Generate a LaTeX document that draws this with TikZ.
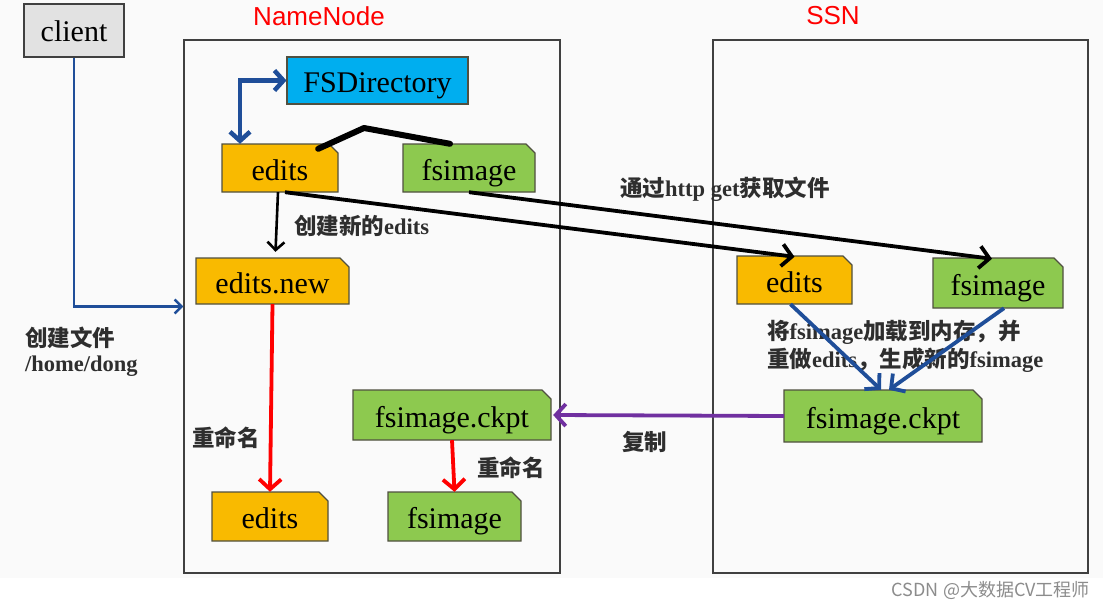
\documentclass[tikz,border=0pt]{standalone}
\usepackage{fontspec}
\setmainfont{Liberation Serif}
\setsansfont{Liberation Sans}
\newfontfamily\cjk{Noto Sans CJK SC}
\usetikzlibrary{arrows.meta,calc}
\definecolor{orangebox}{HTML}{F9BA00}
\definecolor{greenbox}{HTML}{8DC94F}
\definecolor{bluebox}{HTML}{00AEEF}
\definecolor{clientfill}{HTML}{E2E2E2}
\definecolor{boxline}{HTML}{505040}
\definecolor{darkblue}{HTML}{1F4E99}
\definecolor{purplearrow}{HTML}{7030A0}
\definecolor{labcol}{HTML}{2E2E2E}
\definecolor{bgcol}{HTML}{FAFAFA}
\newcommand{\filenode}[7]{%
  \filldraw[fill=#2, draw=boxline, line width=1.1pt] (#3,#4) -- (#5-9,#4) -- (#5,#4+9) -- (#5,#6) -- (#3,#6) -- cycle;
  \node[filetext, minimum width=#5-#3, minimum height=#6-#4] (#1) at ({(#3+#5)/2},{(#4+#6)/2}) {#7};
}
\begin{document}
\begin{tikzpicture}[x=1pt,y=-1pt,
  filetext/.style={font=\rmfamily\fontsize{30}{32}\selectfont, text=black, inner sep=0pt, text height=24pt, text depth=0pt},
  lab/.style={font=\cjk\bfseries\fontsize{22.5}{25}\selectfont, text=labcol, anchor=west, inner sep=0pt},
  frame/.style={draw=black!75, line width=1.1pt, inner sep=0pt},
  title/.style={font=\sffamily\fontsize{26}{28}\selectfont, text=red, inner sep=0pt},
  bigtip/.style={-{Straight Barb[length=10pt,width=22pt]}},
  blk/.style={draw=black, line width=3.8pt, bigtip},
  redarr/.style={draw=red, line width=3.8pt, bigtip},
  bluearr/.style={draw=darkblue, line width=3.8pt, bigtip},
]
\useasboundingbox (0,0) rectangle (1103,608);
\fill[white] (0,0) rectangle (1103,608);
\fill[bgcol] (0,0) rectangle (1103,578);

% frames
\node[frame, minimum width=376, minimum height=533] (nnframe) at (372,306.5) {};
\node[frame, minimum width=375, minimum height=533] (ssnframe) at (900.5,306.5) {};
\node[title] (nntitle) at (319,16) {NameNode};
\node[title] (ssntitle) at (833,16) {SSN};

% client and FSDirectory (plain rectangles)
\node[draw=black!75, fill=clientfill, line width=1.1pt, filetext, text height=22pt, minimum width=100, minimum height=53] (client) at (74,30.5) {client};
\node[draw=boxline, fill=bluebox, line width=1.1pt, filetext, text height=23pt, minimum width=181, minimum height=47] (fsdir) at (377.5,80.5) {FSDirectory};

% file boxes
\filenode{nnedits}{orangebox}{222}{144}{338}{192}{edits}
\filenode{nnfsimage}{greenbox}{403}{144}{535}{192}{fsimage}
\filenode{editsnew}{orangebox}{196}{258}{349}{304}{edits.new}
\filenode{nnckpt}{greenbox}{353}{390}{551}{440}{fsimage.ckpt}
\filenode{nnedits2}{orangebox}{212}{492}{328}{541}{edits}
\filenode{nnfsimage2}{greenbox}{388}{492}{521}{541}{fsimage}
\filenode{ssnedits}{orangebox}{737}{256}{852}{304}{edits}
\filenode{ssnfsimage}{greenbox}{933}{258}{1063}{308}{fsimage}
\filenode{ssnckpt}{greenbox}{784}{390}{982}{442}{fsimage.ckpt}

% labels
\node[lab] (lbnew) at (294,226) {创建新的{\rmfamily\bfseries edits}};
\node[lab] (lbhttp) at (620,189) {通过{\rmfamily\bfseries http get}获取文件};
\node[lab] (lbload1) at (767,332) {将{\rmfamily\bfseries fsimage}加载到内存，并};
\node[lab] (lbload2) at (767,360) {重做{\rmfamily\bfseries edits}，生成新的{\rmfamily\bfseries fsimage}};
\node[lab] (lbcopy) at (622,442) {复制};
\node[lab] (lbren1) at (192,438) {重命名};
\node[lab] (lbren2) at (477,468) {重命名};
\node[lab] (lbfile1) at (25,338) {创建文件};
\node[lab] (lbfile2) at (25,366) {{\rmfamily\bfseries /home/dong}};
\node[font=\cjk\fontsize{18}{20}\selectfont, text=black!45, anchor=east, inner sep=0pt] (wm) at (1090,590) {CSDN @大数据CV工程师};

% connectors
\draw[darkblue, line width=2.5pt, -{Straight Barb[length=7pt,width=14pt]}] (client.south) |- (nnframe.west);
\draw[darkblue, line width=4.5pt, {Straight Barb[length=9pt,width=20pt]}-{Straight Barb[length=9pt,width=20pt]}]
  (fsdir.west) -| ([xshift=-40pt]nnedits.north);
\coordinate (peak) at (364,128);
\draw[black, line width=6pt, line cap=round, line join=round]
  ([xshift=-20pt,yshift=-5pt]nnedits.north east) -- (peak) -- ([xshift=-19pt,yshift=0pt]nnfsimage.north);
\draw[black, line width=2.6pt, -{Straight Barb[length=8pt,width=17pt]}] ([xshift=-2pt]nnedits.south) -- ([xshift=3pt,yshift=6pt]editsnew.north);
\draw[blk] ([xshift=5pt]nnedits.south) -- ([yshift=-1pt]ssnedits.north);
\draw[blk] (nnfsimage.south) -- ([xshift=-6pt,yshift=-1pt]ssnfsimage.north);
\draw[redarr] (editsnew.south) -- (nnedits2.north);
\draw[redarr] (nnckpt.south) -- (nnfsimage2.north);
\draw[bluearr] ([xshift=-4pt]ssnedits.south) -- ([xshift=-2pt]ssnckpt.north);
\draw[bluearr] ([xshift=6pt]ssnfsimage.south) -- ([xshift=6pt]ssnckpt.north);
\draw[purplearrow, line width=3.8pt, bigtip] (ssnckpt.west) -- ([xshift=2pt]nnckpt.east);
\end{tikzpicture}
\end{document}
